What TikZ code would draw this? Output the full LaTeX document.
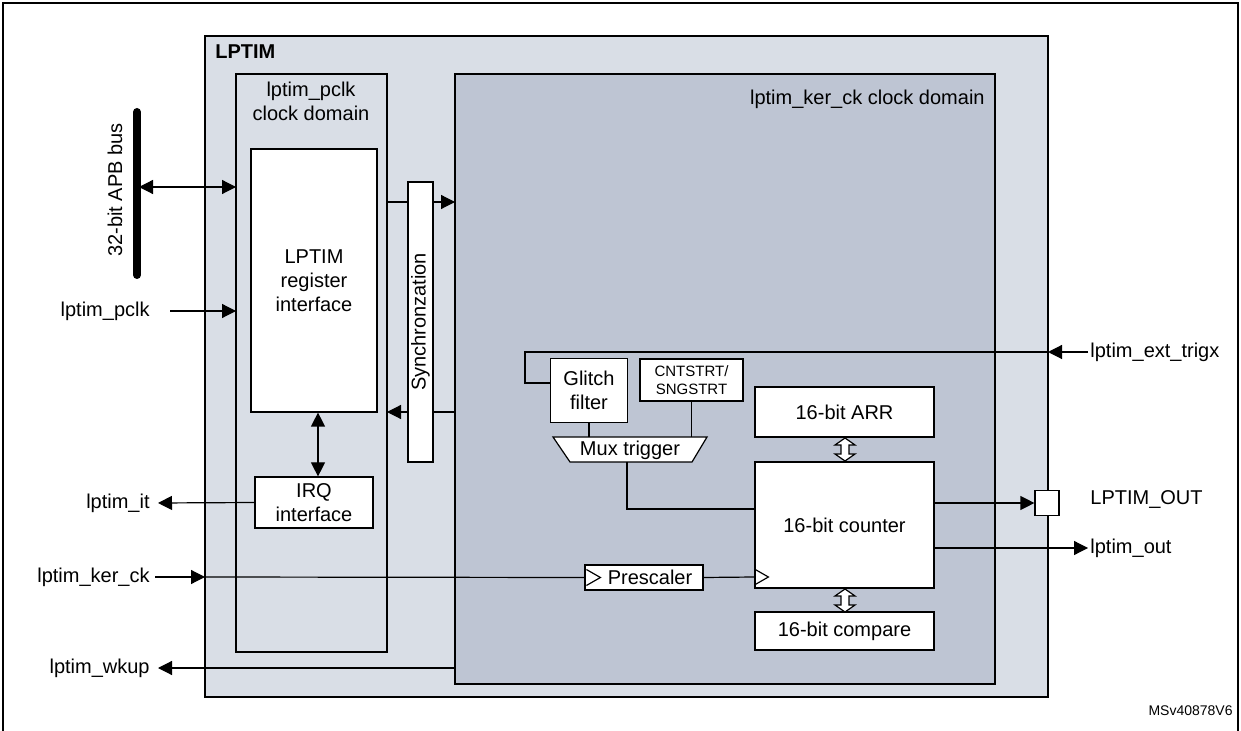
\documentclass[tikz,border=0pt]{standalone}
\usepackage{fontspec}
\setmainfont{Liberation Sans}
\usetikzlibrary{arrows.meta}
\definecolor{lpt}{HTML}{D9DEE6}
\definecolor{ker}{HTML}{BEC5D3}
\begin{document}
\begin{tikzpicture}[x=0.5pt,y=-0.5pt,
  every node/.style={font=\fontsize{10}{12}\selectfont, inner sep=0pt},
  thickbox/.style={draw, line width=1.2pt},
  box/.style={draw, fill=white, line width=0.6pt},
  sig/.style={line width=0.6pt},
  arr/.style={sig,-{Triangle[length=7pt,width=7pt]}},
  darr/.style={sig,{Triangle[length=7pt,width=7pt]}-{Triangle[length=7pt,width=7pt]}}]
\useasboundingbox (0,0) rectangle (1241,731);
\draw[line width=1pt] (3,731) -- (3,3) -- (1238,3) -- (1238,731);
% containers
\draw[thickbox, fill=lpt] (205,36) rectangle (1048,697);
\node[anchor=north west, font=\fontsize{10}{12}\selectfont\bfseries] (lptim) at (215,44) {LPTIM};
\draw[thickbox] (236,74) rectangle (387,652);
\node[align=center, anchor=north] (pcd) at (311,82) {lptim\_pclk\\clock domain};
\draw[thickbox, fill=ker] (455,74) rectangle (995,684);
\node[anchor=north east] (kcd) at (985,90) {lptim\_ker\_ck clock domain};
% connections behind sync
\draw[arr] (387,202) -- (455,202);
\draw[arr] (455,412) -- (387,412);
% boxes
\node[box, minimum width=63pt, minimum height=131.5pt, align=center] (reg) at (314,280.5) {LPTIM\\register\\interface};
\node[box, minimum width=59pt, minimum height=25.5pt, align=center] (irq) at (314,502.5) {IRQ\\interface};
\node[box, minimum width=140pt, minimum height=12.5pt, rotate=90] (sync) at (420.5,322) {Synchronzation};
\node[box, minimum width=38.5pt, minimum height=32pt, align=center] (glitch) at (589,390.5) {Glitch\\filter};
\node[box, minimum width=51.5pt, minimum height=21pt, align=center, font=\fontsize{7.5}{9}\selectfont] (cnt) at (691.5,380) {CNTSTRT/\\SNGSTRT};
\node[box, minimum width=89.5pt, minimum height=25pt] (arr) at (844.5,412) {16-bit ARR};
\node[box, minimum width=89.5pt, minimum height=63pt] (ctr) at (844.5,525) {16-bit counter};
\node[box, minimum width=89.5pt, minimum height=19pt] (cmp) at (844.5,631) {16-bit compare};
\node[box, minimum width=59pt, minimum height=12.5pt] (pre) at (644,577.5) {\hspace{6pt}Prescaler};
\draw[sig] ([xshift=1pt]pre.west) ++(0,-4pt) -- ++(7pt,4pt) -- ++(-7pt,4pt);
\draw[sig] ([xshift=0pt]ctr.west |- 0,577) ++(0,-4pt) -- ++(7pt,4pt) -- ++(-7pt,4pt);
\draw[box] (553,437) -- (707,437) -- (692,462) -- (570,462) -- cycle;
\node (mux) at (630,450) {Mux trigger};
\coordinate (muxb) at (627,462);
\node[box, minimum width=12pt, minimum height=12.5pt] (pout) at (1047,503) {};
% bus
\draw[line width=4pt, line cap=round] (137,112) -- (137,275);
\coordinate (bus) at (139,187);
\node[rotate=90] (busl) at (115,190) {32-bit APB bus};
% connections
\draw[darr] (bus) -- (236,187);
\node[anchor=east] (pclk) at (150,311) {lptim\_pclk};
\draw[arr] (170,311) -- (236,311);
\draw[darr] (reg.south -| 318,0) -- (irq.north -| 318,0);
\node[anchor=east] (it) at (150,503) {lptim\_it};
\draw[arr] (irq.west) -- (158,503);
\node[anchor=east] (kck) at (150,577) {lptim\_ker\_ck};
\draw[arr] (155,577) -- (205,577);
\draw[sig] (205,577) -- (pre.west);
\draw[sig] (pre.east) -- (ctr.west |- 0,577);
\node[anchor=east] (wk) at (150,668) {lptim\_wkup};
\draw[arr] (455,668) -- (158,668);
\node[anchor=west] (ext) at (1090,352) {lptim\_ext\_trigx};
\draw[arr] (1088,352) -- (1048,352);
\draw[sig] (1048,352) -- (525,352) -- (525,383) -- (glitch.west |- 0,383);
\draw[sig] (glitch.south) -- (589,437);
\draw[sig] (cnt.south) -- (691.5,437);
\draw[sig] (muxb) -- (627,509) -- (ctr.west |- 0,509);
\draw[arr] (ctr.east |- 0,503) -- (pout.west);
\node[anchor=west] (outl) at (1090,500) {LPTIM\_OUT};
\node[anchor=west] (lout) at (1090,548) {lptim\_out};
\draw[arr] (ctr.east |- 0,548) -- (1088,548);
% hollow double arrows
\foreach \ya/\yb in {437/462, 588/613}{
  \draw[sig, fill=white] (845,\ya+1) -- (855,\ya+8) -- (849,\ya+8) -- (849,\yb-8) -- (855,\yb-8) -- (845,\yb-1) -- (835,\yb-8) -- (841,\yb-8) -- (841,\ya+8) -- (835,\ya+8) -- cycle;
}
\node[anchor=east, font=\fontsize{7}{8}\selectfont] (msv) at (1233,711) {MSv40878V6};
\end{tikzpicture}
\end{document}
